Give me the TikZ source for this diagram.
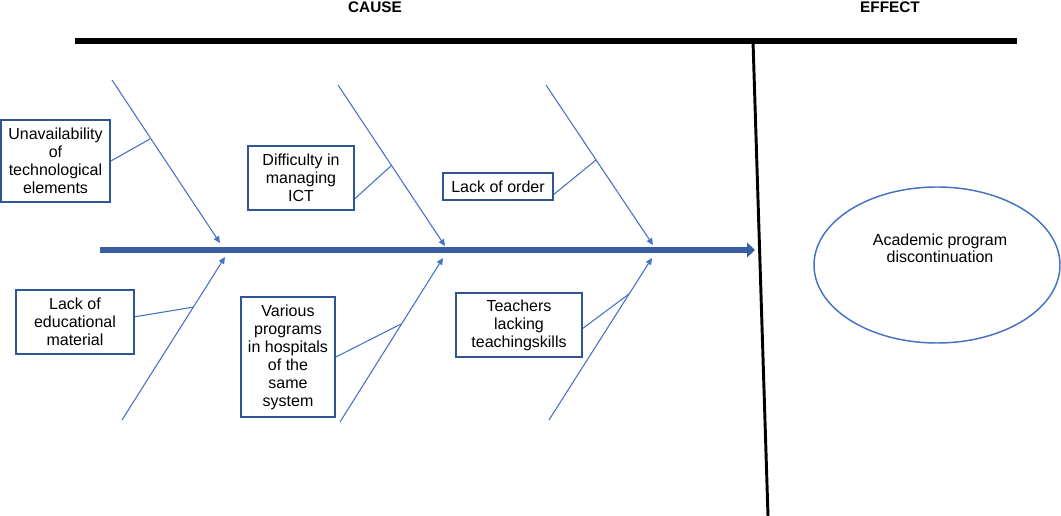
\documentclass[tikz,border=0pt]{standalone}
\usepackage{fontspec}
\setmainfont{Liberation Sans}
\usetikzlibrary{arrows.meta, shapes.geometric}

\definecolor{bonecol}{RGB}{68,114,196}
\definecolor{boxcol}{RGB}{47,85,151}
\definecolor{spinecol}{RGB}{57,92,162}

\tikzset{
	causebox/.style={draw=boxcol, line width=1.3pt, align=center, inner sep=1pt,
		font=\fontsize{12}{13.5}\selectfont},
	bone/.style={draw=bonecol, line width=0.8pt, -{Triangle[length=5pt,width=4.5pt]}},
	twig/.style={draw=bonecol, line width=0.8pt},
	heading/.style={font=\bfseries\fontsize{11.5}{13}\selectfont},
}

\begin{document}
\begin{tikzpicture}[x=0.75pt, y=-0.75pt]
	\useasboundingbox (0,0) rectangle (1061,516);

	% frame
	\node[heading] (cause)  at (375,7) {CAUSE};
	\node[heading] (effect) at (890,7) {EFFECT};
	\coordinate (barleft)  at (75,41);
	\coordinate (barright) at (1017,41);
	\coordinate (walltop)  at (753,41);
	\coordinate (wallfoot) at (768,516);
	\draw[line width=5.2pt] (barleft) -- (barright);
	\draw[line width=2.2pt] (walltop) -- (wallfoot);

	% spine
	\coordinate (spinestart) at (100,250);
	\coordinate (spineend)   at (755,250);
	\draw[spinecol, line width=4.2pt, -{Triangle[length=6pt,width=11pt]}] (spinestart) -- (spineend);

	% bones
	\coordinate (t1) at (112,80);  \coordinate (t1tip) at (220,243);
	\coordinate (t2) at (338,85);  \coordinate (t2tip) at (445,246);
	\coordinate (t3) at (546,85);  \coordinate (t3tip) at (653,245);
	\coordinate (b1) at (122,420); \coordinate (b1tip) at (225,257);
	\coordinate (b2) at (340,422); \coordinate (b2tip) at (443,258);
	\coordinate (b3) at (549,420); \coordinate (b3tip) at (652,258);
	\draw[bone] (t1) -- (t1tip);
	\draw[bone] (t2) -- (t2tip);
	\draw[bone] (t3) -- (t3tip);
	\draw[bone] (b1) -- (b1tip);
	\draw[bone] (b2) -- (b2tip);
	\draw[bone] (b3) -- (b3tip);

	% causes
	\node[causebox, minimum width=81.75pt, minimum height=61.5pt] (techelem) at (55.5,161)
		{Unavailability\\of\\technological\\elements};
	\node[causebox, minimum width=79.5pt, minimum height=48pt] (ictmgmt) at (301,178)
		{Difficulty in\\managing\\ICT};
	\node[causebox, minimum width=82.5pt, minimum height=20.25pt] (order) at (498,186.5)
		{Lack of order};
	\node[causebox, minimum width=88.5pt, minimum height=48pt] (material) at (75,322)
		{Lack of\\educational\\material};
	\node[causebox, minimum width=70.5pt, minimum height=90pt] (programs) at (288,357)
		{Various\\programs\\in hospitals\\of the\\same\\system};
	\node[causebox, minimum width=94.5pt, minimum height=48pt] (teachers) at (519,325)
		{Teachers\\lacking\\teachingskills};

	\coordinate (j1) at (150,139);
	\coordinate (j2) at (392,165);
	\coordinate (j3) at (596,160);
	\coordinate (j4) at (194,307);
	\coordinate (j5) at (401,324);
	\coordinate (j6) at (629,294);
	\draw[twig] (techelem.east) -- (j1);
	\draw[twig] (ictmgmt.-21.6) -- (j2);
	\draw[twig] (order.-8) -- (j3);
	\draw[twig] (material.5) -- (j4);
	\draw[twig] (programs.east) -- (j5);
	\draw[twig] (teachers.-3) -- (j6);

	% effect
	\node[draw=bonecol, line width=1.1pt, shape=ellipse, minimum width=184.5pt, minimum height=117pt] (result) at (937,265) {};
	\node[align=center, font=\fontsize{12}{12.75}\selectfont] (resulttext) at (940,248) {Academic program\\discontinuation};
\end{tikzpicture}
\end{document}
